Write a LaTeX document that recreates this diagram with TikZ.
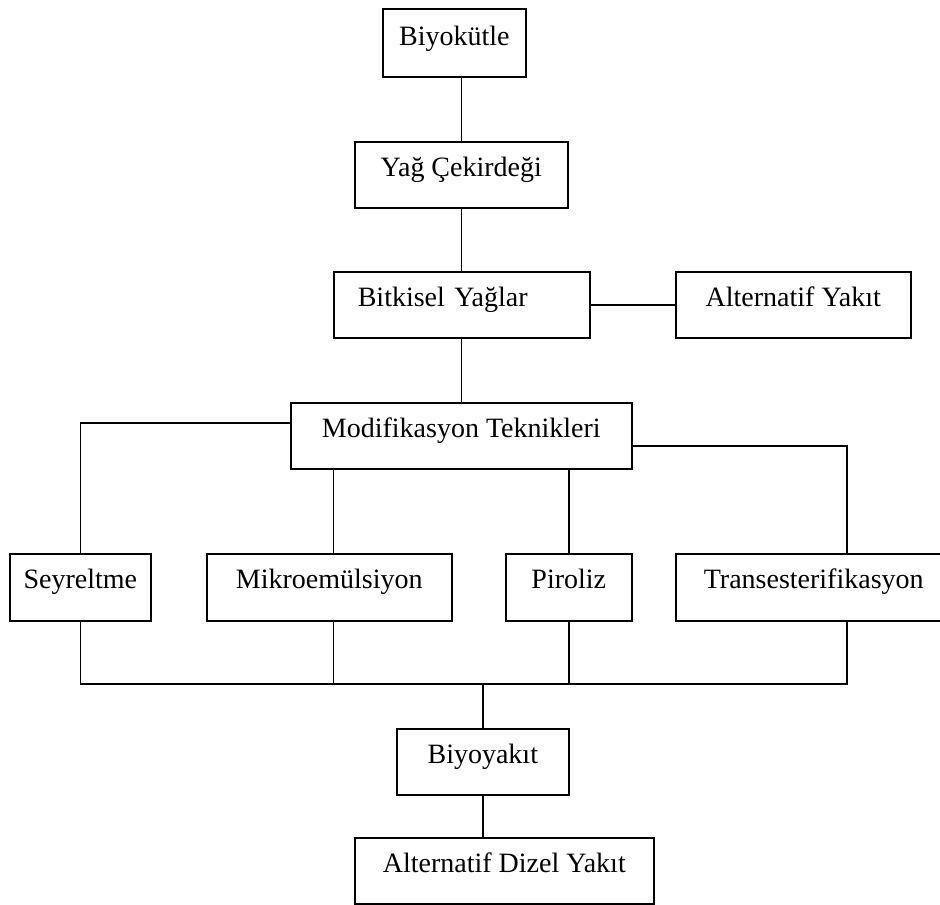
\documentclass[tikz,border=0pt]{standalone}
\usepackage{fontspec}
\setmainfont{Liberation Serif}
\usetikzlibrary{calc}

\begin{document}
\begin{tikzpicture}[x=1pt, y=-1pt,
    kutu/.style={draw, line width=1.6pt, anchor=north west, inner sep=0pt, text height=35pt, text depth=31pt, font=\fontsize{28}{32}\selectfont},
    hat/.style={line width=1.6pt}
]
\useasboundingbox (0,0) rectangle (940,905);
\clip (0,0) rectangle (940,905);

% boxes
\node[kutu, minimum width=143pt, text height=37pt] (biyokutle) at (382,8) {Biyokütle};
\node[kutu, minimum width=213pt] (cekirdek) at (354,141) {Yağ Çekirdeği};
\node[kutu, minimum width=256pt, text width=208pt, align=left] (bitkisel) at (333,271) {Bitkisel Yağlar};
\node[kutu, minimum width=235pt] (alternatif) at (675,271) {Alternatif Yakıt};
\node[kutu, minimum width=341pt] (modif) at (290,402) {Modifikasyon Teknikleri};

\node[kutu, minimum width=141pt, text depth=32pt] (seyreltme) at (9,553) {Seyreltme};
\node[kutu, minimum width=245pt, text depth=32pt] (mikro) at (206,553) {Mikroemülsiyon};
\node[kutu, minimum width=126pt, text depth=32pt] (piroliz) at (505,553) {Piroliz};
\node[kutu, minimum width=342pt, text depth=32pt, text width=286pt, align=left] (trans) at (675,553) {Transesterifikasyon};

\node[kutu, minimum width=172pt] (biyoyakit) at (396,728) {Biyoyakıt};
\node[kutu, minimum width=299pt] (dizel) at (354,837) {Alternatif Dizel Yakıt};

\coordinate (bus) at (483,684);

% connectors
\draw[hat] (cekirdek.north |- biyokutle.south) -- (cekirdek.north);
\draw[hat] (cekirdek.south) -- (cekirdek.south |- bitkisel.north);
\draw[hat] (cekirdek.south |- bitkisel.south) -- (cekirdek.south |- modif.north);
\draw[hat] (bitkisel.east) -- (alternatif.west);

\draw[hat] ([yshift=-21pt]modif.north west) -| (seyreltme.north);
\draw[hat] ([xshift=4pt]mikro.north) -- ([xshift=4pt]mikro.north |- modif.south);
\draw[hat] (piroliz.north) -- (piroliz.north |- modif.south);
\draw[hat] ([yshift=-44pt]modif.north east) -| (trans.north);

\draw[hat] (seyreltme.south) |- (bus);
\draw[hat] ([xshift=4pt]mikro.south) -- ([xshift=4pt]mikro.south |- bus);
\draw[hat] (piroliz.south) -- (piroliz.south |- bus);
\draw[hat] (trans.south) |- (bus);
\draw[hat] (bus) -- (bus |- biyoyakit.north);
\draw[hat] (bus |- biyoyakit.south) -- (bus |- dizel.north);

\end{tikzpicture}
\end{document}
